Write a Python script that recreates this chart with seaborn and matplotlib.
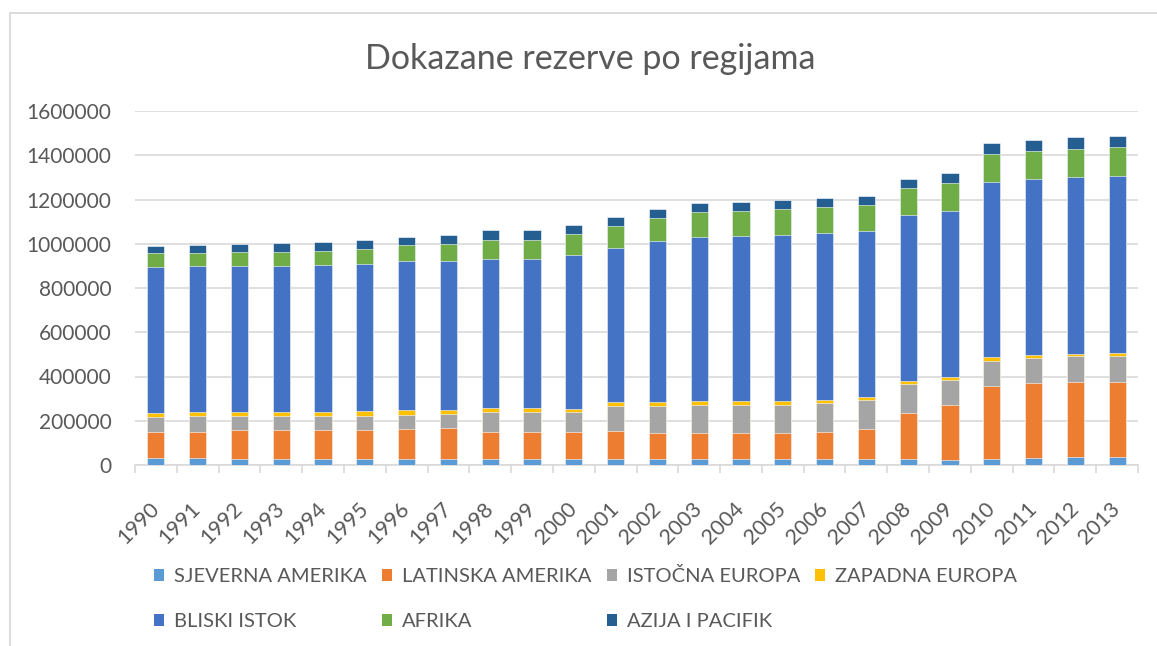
import numpy as np
import pandas as pd
import matplotlib
matplotlib.use("Agg")
import seaborn as sns
from matplotlib import pyplot as plt
from matplotlib.patches import Patch, Rectangle
from matplotlib.ticker import FuncFormatter

# data
years = ['1990', '1991', '1992', '1993', '1994', '1995', '1996', '1997', '1998', '1999', '2000', '2001',
         '2002', '2003', '2004', '2005', '2006', '2007', '2008', '2009', '2010', '2011', '2012', '2013']
regions = ['SJEVERNA AMERIKA', 'LATINSKA AMERIKA', 'ISTOČNA EUROPA', 'ZAPADNA EUROPA',
           'BLISKI ISTOK', 'AFRIKA', 'AZIJA I PACIFIK']

sjeverna_amerika = [30000, 30000, 27000, 26000, 26000, 26000, 26000, 26000, 26000, 26000, 26000, 26000,
                    26000, 26000, 26000, 26000, 26000, 26000, 26000, 21000, 26000, 33000, 36000, 36000]
latinska_amerika = [121000, 121000, 130000, 131000, 131000, 131000, 137000, 140000, 125000, 125000, 122000, 127000,
                    118000, 118000, 118000, 118000, 122000, 136000, 208000, 249000, 330000, 336000, 337000, 337000]
istocna_europa = [68000, 71000, 66000, 66000, 66000, 66000, 65000, 66000, 87000, 87000, 90000, 112000,
                  122000, 127000, 127000, 127000, 130000, 130000, 131000, 116000, 116000, 116000, 118000, 121000]
zapadna_europa = [18000, 17000, 18000, 18000, 18000, 21000, 20000, 18000, 20000, 20000, 17000, 20000,
                  20000, 18000, 18000, 20000, 17000, 15000, 15000, 12000, 17000, 12000, 12000, 12000]
bliski_istok = [659000, 659000, 660000, 660000, 663000, 664000, 674000, 674000, 675000, 675000, 692000, 695000,
                728000, 741000, 746000, 749000, 752000, 749000, 749000, 752000, 789000, 794000, 799000, 802000]
afrika = [60000, 62000, 62000, 62000, 65000, 68000, 74000, 75000, 84000, 86000, 95000, 98000,
          101000, 113000, 113000, 119000, 121000, 120000, 124000, 125000, 127000, 128000, 128000, 130000]
azija_pacifik = [35000, 36000, 38000, 39000, 38000, 39000, 36000, 39000, 44000, 42000, 42000, 44000,
                 42000, 41000, 41000, 41000, 41000, 41000, 41000, 47000, 50000, 48000, 51000, 50000]

colors = ['#5B9BD5', '#ED7D31', '#A5A5A5', '#FFC000', '#4472C4', '#70AD47', '#255E91']
text_col = '#595959'
grid_col = '#D9D9D9'

df = pd.DataFrame({
    regions[0]: sjeverna_amerika,
    regions[1]: latinska_amerika,
    regions[2]: istocna_europa,
    regions[3]: zapadna_europa,
    regions[4]: bliski_istok,
    regions[5]: afrika,
    regions[6]: azija_pacifik,
}, index=years)
cum = df.cumsum(axis=1)

sns.set_style("white")
plt.rcParams['font.family'] = ['Lato', 'DejaVu Sans']

W, H = 1157, 646
fig = plt.figure(figsize=(W / 100, H / 100), dpi=100)
ax = fig.add_axes([135 / W, 1 - 465 / H, (1138 - 135) / W, (465 - 111) / H])

# stacked bars: draw cumulative totals from the top down
for region, col in reversed(list(zip(regions, colors))):
    sns.barplot(x=years, y=cum[region].values, color=col, saturation=1, width=0.41,
                errorbar=None, edgecolor='white', linewidth=0.4, ax=ax, zorder=3)

ax.set_ylim(0, 1600000)
ax.set_yticks(np.arange(0, 1600001, 200000))
ax.yaxis.set_major_formatter(FuncFormatter(lambda v, p: f"{v:.0f}"))
ax.set_xlim(-0.5, len(years) - 0.5)
ax.grid(axis='y', color=grid_col, linewidth=1.2, zorder=0)
ax.set_axisbelow(True)
for s in ['left', 'right', 'top']:
    ax.spines[s].set_visible(False)
ax.spines['bottom'].set_color(grid_col)
ax.spines['bottom'].set_linewidth(1.2)
ax.set_xlabel('')
ax.set_ylabel('')

ax.tick_params(axis='y', length=0, pad=17, labelsize=15, labelcolor=text_col)
ax.set_xticks(np.arange(len(years)), labels=years, rotation=45, ha='right', va='center',
              rotation_mode='anchor')
ax.tick_params(axis='x', which='major', length=0, pad=29, labelsize=15.5, labelcolor=text_col)
ax.set_xticks(np.arange(-0.5, len(years), 1), minor=True)
ax.tick_params(axis='x', which='minor', length=5.5, width=1.2, color=grid_col, bottom=True)

fig.text(590 / W, 1 - 59 / H, 'Dokazane rezerve po regijama', ha='center', va='center',
         fontsize=24.5, color=text_col)

# legend in Excel row order (matplotlib fills column by column)
handles = [Patch(facecolor=c, edgecolor='none') for c in colors]
order = [0, 4, 1, 5, 2, 6, 3]
fig.legend([handles[i] for i in order], [regions[i] for i in order], ncol=4,
           loc='upper left', bbox_to_anchor=(146 / W, 1 - 559 / H), frameon=False,
           fontsize=14.5, labelcolor=text_col, handlelength=0.5, handleheight=0.5,
           handletextpad=0.5, columnspacing=0.75, labelspacing=1.4, borderaxespad=0)

# chart area border
fig.add_artist(Rectangle((10 / W, -0.1), 1.2, 1 - 13 / H + 0.1, transform=fig.transFigure,
                         fill=False, edgecolor=grid_col, linewidth=1.3))

fig.savefig('out.png', dpi=100)
